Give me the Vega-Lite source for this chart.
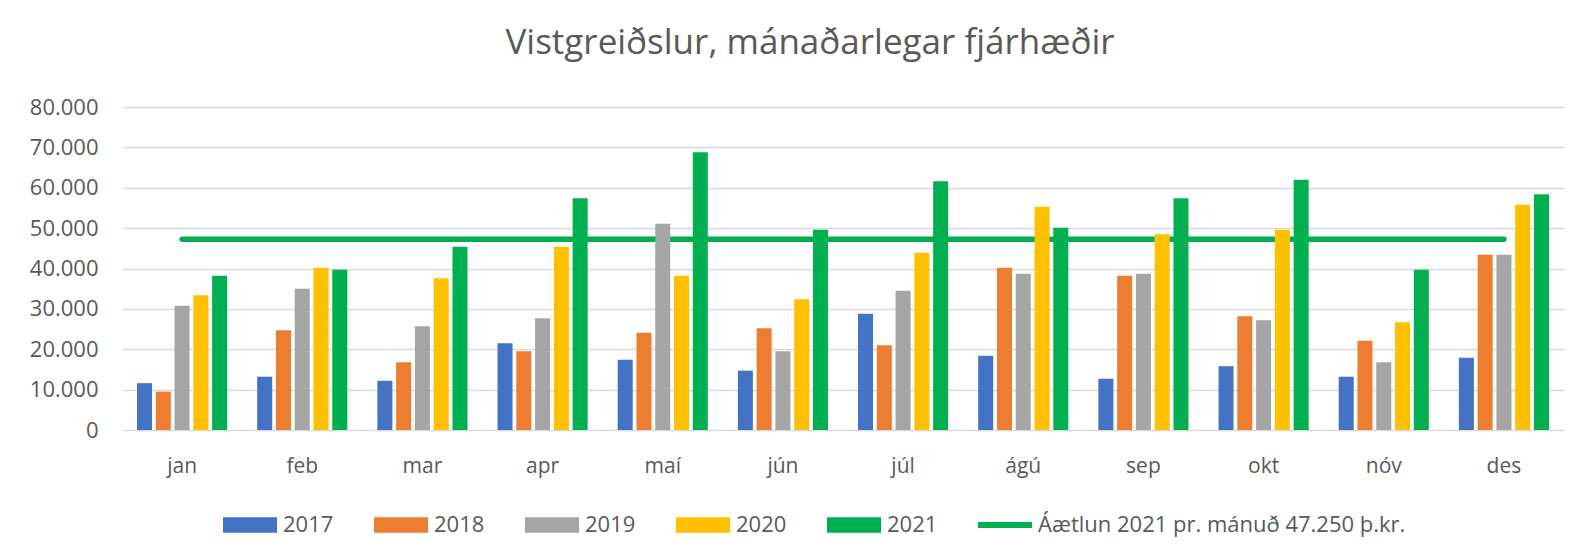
{
  "$schema": "https://vega.github.io/schema/vega-lite/v6.json",
  "width": 1442,
  "height": 323,
  "autosize": {"type": "none"},
  "padding": {"left": 122, "top": 107, "right": 14, "bottom": 127},
  "background": "white",
  "title": {
    "text": "Vistgreiðslur, mánaðarlegar fjárhæðir",
    "font": "Open Sans",
    "fontSize": 35,
    "fontWeight": "normal",
    "color": "#595959",
    "anchor": "middle",
    "dx": -33,
    "offset": 7,
    "baseline": "alphabetic"
  },
  "datasets": {
    "bars": [
      {"m": "jan", "s": "2017", "v": 11600}, {"m": "jan", "s": "2018", "v": 9500}, {"m": "jan", "s": "2019", "v": 30800}, {"m": "jan", "s": "2020", "v": 33400}, {"m": "jan", "s": "2021", "v": 38200},
      {"m": "feb", "s": "2017", "v": 13200}, {"m": "feb", "s": "2018", "v": 24700}, {"m": "feb", "s": "2019", "v": 35000}, {"m": "feb", "s": "2020", "v": 40200}, {"m": "feb", "s": "2021", "v": 39700},
      {"m": "mar", "s": "2017", "v": 12200}, {"m": "mar", "s": "2018", "v": 16800}, {"m": "mar", "s": "2019", "v": 25700}, {"m": "mar", "s": "2020", "v": 37600}, {"m": "mar", "s": "2021", "v": 45400},
      {"m": "apr", "s": "2017", "v": 21500}, {"m": "apr", "s": "2018", "v": 19500}, {"m": "apr", "s": "2019", "v": 27700}, {"m": "apr", "s": "2020", "v": 45400}, {"m": "apr", "s": "2021", "v": 57400},
      {"m": "maí", "s": "2017", "v": 17400}, {"m": "maí", "s": "2018", "v": 24100}, {"m": "maí", "s": "2019", "v": 51100}, {"m": "maí", "s": "2020", "v": 38200}, {"m": "maí", "s": "2021", "v": 68800},
      {"m": "jún", "s": "2017", "v": 14700}, {"m": "jún", "s": "2018", "v": 25200}, {"m": "jún", "s": "2019", "v": 19500}, {"m": "jún", "s": "2020", "v": 32400}, {"m": "jún", "s": "2021", "v": 49600},
      {"m": "júl", "s": "2017", "v": 28800}, {"m": "júl", "s": "2018", "v": 21000}, {"m": "júl", "s": "2019", "v": 34500}, {"m": "júl", "s": "2020", "v": 43900}, {"m": "júl", "s": "2021", "v": 61600},
      {"m": "ágú", "s": "2017", "v": 18400}, {"m": "ágú", "s": "2018", "v": 40200}, {"m": "ágú", "s": "2019", "v": 38700}, {"m": "ágú", "s": "2020", "v": 55300}, {"m": "ágú", "s": "2021", "v": 50100},
      {"m": "sep", "s": "2017", "v": 12700}, {"m": "sep", "s": "2018", "v": 38200}, {"m": "sep", "s": "2019", "v": 38700}, {"m": "sep", "s": "2020", "v": 48500}, {"m": "sep", "s": "2021", "v": 57400},
      {"m": "okt", "s": "2017", "v": 15800}, {"m": "okt", "s": "2018", "v": 28200}, {"m": "okt", "s": "2019", "v": 27200}, {"m": "okt", "s": "2020", "v": 49600}, {"m": "okt", "s": "2021", "v": 62000},
      {"m": "nóv", "s": "2017", "v": 13200}, {"m": "nóv", "s": "2018", "v": 22100}, {"m": "nóv", "s": "2019", "v": 16800}, {"m": "nóv", "s": "2020", "v": 26700}, {"m": "nóv", "s": "2021", "v": 39700},
      {"m": "des", "s": "2017", "v": 17900}, {"m": "des", "s": "2018", "v": 43400}, {"m": "des", "s": "2019", "v": 43400}, {"m": "des", "s": "2020", "v": 55800}, {"m": "des", "s": "2021", "v": 58400}
    ],
    "plan": [
      {"m": "jan", "s": "Áætlun 2021 pr. mánuð 47.250 þ.kr.", "v": 47250},
      {"m": "feb", "s": "Áætlun 2021 pr. mánuð 47.250 þ.kr.", "v": 47250},
      {"m": "mar", "s": "Áætlun 2021 pr. mánuð 47.250 þ.kr.", "v": 47250},
      {"m": "apr", "s": "Áætlun 2021 pr. mánuð 47.250 þ.kr.", "v": 47250},
      {"m": "maí", "s": "Áætlun 2021 pr. mánuð 47.250 þ.kr.", "v": 47250},
      {"m": "jún", "s": "Áætlun 2021 pr. mánuð 47.250 þ.kr.", "v": 47250},
      {"m": "júl", "s": "Áætlun 2021 pr. mánuð 47.250 þ.kr.", "v": 47250},
      {"m": "ágú", "s": "Áætlun 2021 pr. mánuð 47.250 þ.kr.", "v": 47250},
      {"m": "sep", "s": "Áætlun 2021 pr. mánuð 47.250 þ.kr.", "v": 47250},
      {"m": "okt", "s": "Áætlun 2021 pr. mánuð 47.250 þ.kr.", "v": 47250},
      {"m": "nóv", "s": "Áætlun 2021 pr. mánuð 47.250 þ.kr.", "v": 47250},
      {"m": "des", "s": "Áætlun 2021 pr. mánuð 47.250 þ.kr.", "v": 47250}
    ]
  },
  "encoding": {
    "x": {
      "field": "m",
      "type": "nominal",
      "scale": {"domain": ["jan", "feb", "mar", "apr", "maí", "jún", "júl", "ágú", "sep", "okt", "nóv", "des"], "paddingInner": 0.25, "paddingOuter": 0.125},
      "axis": {"title": null, "ticks": false, "domain": false, "labelPadding": 25, "labelFont": "Open Sans", "labelFontSize": 21, "labelColor": "#595959", "labelAngle": 0, "labelBaseline": "top"}
    },
    "y": {
      "field": "v",
      "type": "quantitative",
      "scale": {"domain": [0, 80000], "nice": false},
      "axis": {"title": null, "values": [0, 10000, 20000, 30000, 40000, 50000, 60000, 70000, 80000], "ticks": false, "domain": false, "labelPadding": 24, "labelFont": "Open Sans", "labelFontSize": 22, "labelColor": "#595959", "gridColor": "#D9D9D9", "gridWidth": 1.5, "labelExpr": "replace(format(datum.value, ','), ',', '.')"}
    },
    "color": {
      "field": "s",
      "type": "nominal",
      "scale": {"domain": ["2017", "2018", "2019", "2020", "2021", "Áætlun 2021 pr. mánuð 47.250 þ.kr."], "range": ["#4472C4", "#ED7D31", "#A5A5A5", "#FFC000", "#00B050", "#00B050"]},
      "legend": {
        "orient": "none",
        "legendX": 101,
        "legendY": 391,
        "direction": "horizontal",
        "columns": 6,
        "title": null,
        "padding": 0,
        "labelFont": "Open Sans",
        "labelFontSize": 22,
        "labelColor": "#595959",
        "labelLimit": 600,
        "symbolSize": 2916,
        "labelOffset": 6,
        "columnPadding": 40,
        "symbolStrokeWidth": 0,
        "encode": {
          "symbols": {
            "update": {
              "shape": {"signal": "datum.value == 'Áætlun 2021 pr. mánuð 47.250 þ.kr.' ? 'M-1,-0.11H1V0.11H-1Z' : 'M-1,-0.29H1V0.29H-1Z'"},
              "fill": {"signal": "scale('color', datum.value)"},
              "strokeWidth": {"value": 0},
              "opacity": {"value": 1}
            }
          }
        }
      }
    }
  },
  "layer": [
    {
      "data": {"name": "plan"},
      "mark": {"type": "line", "strokeWidth": 5.5, "strokeCap": "round"}
    },
    {
      "data": {"name": "bars"},
      "mark": {"type": "bar"},
      "encoding": {
        "xOffset": {"field": "s", "type": "nominal", "scale": {"domain": ["2017", "2018", "2019", "2020", "2021"], "paddingInner": 0.2, "paddingOuter": 0}}
      }
    }
  ],
  "config": {
    "view": {"stroke": null}
  }
}
